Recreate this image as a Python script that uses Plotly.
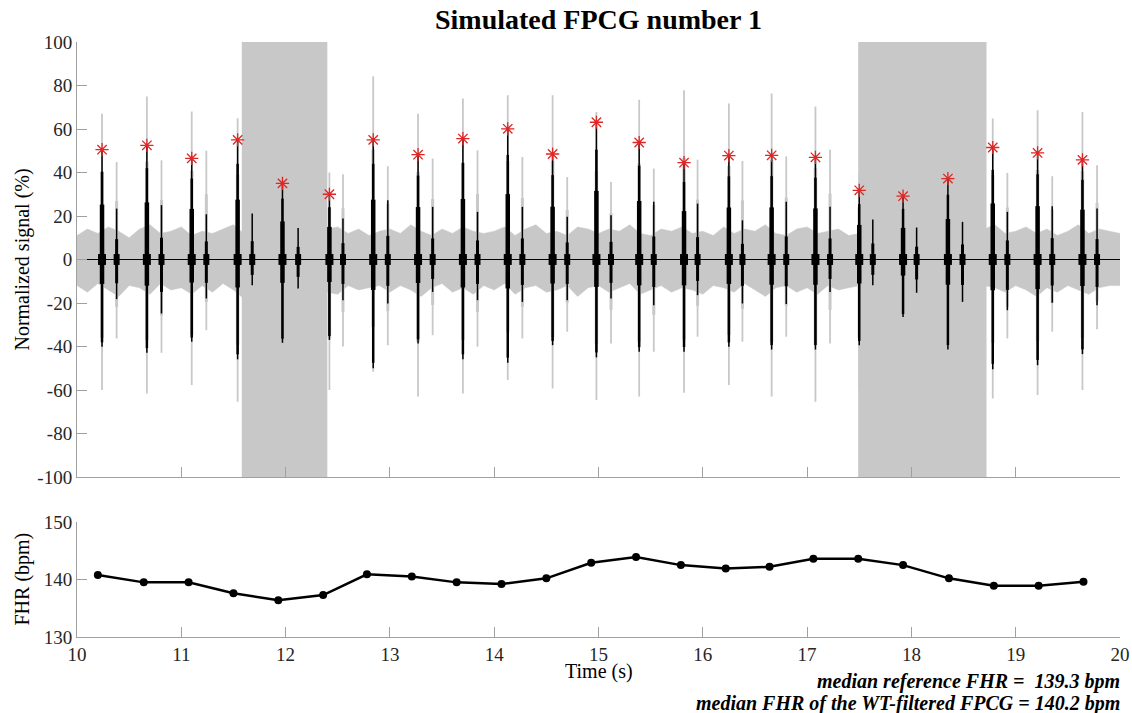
import plotly.graph_objects as go

# ---------------- data ----------------
# S1 (first heart sound) times and amplitudes of the WT-filtered signal
beat_t = [10.24, 10.67, 11.10, 11.54, 11.97, 12.42, 12.84, 13.27, 13.70, 14.13, 14.56, 14.98,
          15.39, 15.82, 16.25, 16.66, 17.08, 17.50, 17.92, 18.35, 18.78, 19.21, 19.64]
s1_peak = [50.5, 52.5, 46.5, 55.0, 35.0, 30.0, 55.0, 48.2, 55.6, 60.1, 48.5, 63.1,
           53.8, 44.5, 47.8, 47.9, 47.0, 31.8, 29.1, 37.2, 51.5, 49.0, 45.8]
s1_trough = [-40.1, -42.9, -37.8, -45.9, -38.3, -37.0, -50.0, -38.6, -45.9, -47.5, -39.4, -45.0,
             -42.4, -42.4, -40.1, -41.4, -41.4, -39.4, -26.4, -41.4, -50.5, -48.6, -43.5]
# S2 (second heart sound) times and amplitudes of the WT-filtered signal
s2_t = [10.38, 10.81, 11.24, 11.68, 12.12, 12.55, 12.98, 13.41, 13.84, 14.27, 14.70, 15.12,
        15.53, 15.95, 16.38, 16.80, 17.22, 17.63, 18.05, 18.49, 18.92, 19.35, 19.78]
s2_peak = [23.4, 25.0, 20.8, 21.1, 14.5, 18.8, 27.2, 24.2, 21.9, 24.2, 19.6, 20.3,
           26.5, 25.7, 18.0, 26.5, 24.2, 18.4, 14.7, 17.3, 21.9, 24.5, 23.4]
s2_trough = [-18.2, -24.8, -17.9, -11.8, -13.3, -18.7, -20.2, -14.9, -18.7, -19.5, -18.7, -17.9,
             -21.0, -16.4, -20.2, -20.5, -14.9, -11.8, -15.3, -19.5, -23.3, -19.9, -21.0]
# raw (noisy) simulated FPCG: spike extremes at S1 and S2
raw_s1_hi = [67.0, 75.0, 68.0, 65.0, 40.0, 40.0, 84.3, 67.0, 74.0, 75.5, 75.5, 67.8,
             73.5, 77.8, 71.7, 76.3, 70.4, 40.0, 35.0, 40.0, 64.8, 68.6, 67.8]
raw_s1_lo = [-60.0, -61.6, -57.7, -65.4, -60.0, -60.0, -51.6, -63.0, -61.6, -55.4, -59.3, -64.6,
             -63.0, -61.3, -57.7, -63.0, -65.4, -60.0, -60.0, -60.0, -63.9, -62.3, -60.0]
raw_s2_hi = [44.8, 45.6, 50.0, 25.0, 20.0, 39.2, 42.9, 46.4, 50.2, 47.1, 37.9, 35.6,
             41.8, 45.9, 45.3, 47.4, 50.5, 20.0, 20.0, 25.0, 39.8, 38.3, 43.3]
raw_s2_lo = [-36.3, -42.9, -32.5, -15.0, -15.0, -40.0, -39.4, -34.8, -40.1, -36.3, -33.2, -38.6,
             -42.4, -35.5, -37.8, -35.5, -38.6, -15.0, -18.0, -22.0, -36.3, -33.2, -32.1]
# strong noise bursts
noise_block_start = [11.58, 17.49]
noise_block_end = [12.40, 18.72]
noise_block_level = [100, 100]
# background noise envelope, every 0.1 s from 10.0 to 20.0 s
noise_t = [round(10 + 0.1 * i, 1) for i in range(101)]
noise_hi = [11, 14, 12, 15, 13, 10, 14, 16, 12, 13,
            15, 11, 13, 12, 14, 16, 12, 11, 13, 12,
            12, 11, 13, 12, 14, 15, 12, 14, 11, 13,
            14, 12, 16, 13, 11, 14, 12, 15, 13, 12,
            13, 15, 11, 14, 16, 12, 13, 11, 15, 14,
            12, 14, 13, 16, 12, 11, 14, 13, 15, 12,
            13, 11, 15, 12, 14, 13, 16, 12, 11, 14,
            15, 12, 13, 14, 11, 12, 13, 12, 14, 13,
            12, 14, 13, 12, 15, 13, 11, 14, 16, 12,
            13, 15, 12, 14, 11, 13, 16, 12, 14, 13, 12]
noise_lo = [-12, -15, -11, -14, -17, -12, -13, -16, -11, -14,
            -13, -16, -12, -15, -11, -14, -18, -12, -13, -15,
            -12, -14, -13, -11, -15, -16, -12, -14, -13, -12,
            -15, -12, -14, -17, -13, -11, -15, -13, -16, -12,
            -14, -11, -16, -13, -12, -15, -14, -12, -17, -13,
            -12, -15, -13, -11, -16, -14, -12, -15, -13, -14,
            -16, -12, -13, -15, -11, -14, -17, -13, -12, -15,
            -13, -16, -12, -14, -13, -12, -15, -14, -16, -12,
            -14, -12, -15, -13, -11, -16, -14, -12, -13, -15,
            -12, -14, -17, -13, -15, -12, -14, -16, -13, -12, -12]
# FHR estimated from the WT-filtered signal
fhr_t = [10.20, 10.64, 11.07, 11.50, 11.93, 12.36, 12.78, 13.21, 13.64, 14.07, 14.50, 14.93,
         15.36, 15.79, 16.22, 16.64, 17.06, 17.49, 17.92, 18.36, 18.79, 19.22, 19.65]
fhr_bpm = [140.8, 139.5, 139.5, 137.6, 136.4, 137.3, 140.9, 140.5, 139.5, 139.2, 140.2, 142.9,
           143.9, 142.5, 141.9, 142.2, 143.6, 143.6, 142.5, 140.2, 138.9, 138.9, 139.6]
# axis ticks
top_yticks = [-100, -80, -60, -40, -20, 0, 20, 40, 60, 80, 100]
bottom_yticks = [130, 140, 150]
xticks = [10, 11, 12, 13, 14, 15, 16, 17, 18, 19, 20]
baseline = 0

# ---------------- helpers ----------------
def segments(xs, los, his):
    X, Y = [], []
    for x, lo, hi in zip(xs, los, his):
        X += [x, x, None]
        Y += [lo, hi, None]
    return X, Y

GRAY = "#c8c8c8"
SERIF = "Liberation Serif"
AX = "#a0a0a0"
RED = "#e02525"

fig = go.Figure()

def add_seg(xs, los, his, width, color, xa="x", ya="y"):
    X, Y = segments(xs, los, his)
    fig.add_trace(go.Scatter(x=X, y=Y, mode="lines", line=dict(color=color, width=width),
                             hoverinfo="skip", showlegend=False, xaxis=xa, yaxis=ya))

# background noise band
fig.add_trace(go.Scatter(x=noise_t + noise_t[::-1], y=noise_hi + noise_lo[::-1],
                         fill="toself", fillcolor=GRAY, mode="lines",
                         line=dict(color=GRAY, width=0.5), hoverinfo="skip", showlegend=False))
# strong noise blocks
for s, e, lv in zip(noise_block_start, noise_block_end, noise_block_level):
    fig.add_trace(go.Scatter(x=[s, e, e, s, s], y=[-lv, -lv, lv, lv, -lv], fill="toself",
                             fillcolor=GRAY, mode="lines", line=dict(color=GRAY, width=0),
                             hoverinfo="skip", showlegend=False))
# raw spikes
add_seg(beat_t, raw_s1_lo, raw_s1_hi, 1.8, GRAY)
add_seg(beat_t, [v * 0.6 for v in raw_s1_lo], [v * 0.6 for v in raw_s1_hi], 3.5, GRAY)
add_seg(s2_t, raw_s2_lo, raw_s2_hi, 1.8, GRAY)
add_seg(s2_t, [v * 0.6 for v in raw_s2_lo], [v * 0.6 for v in raw_s2_hi], 3, GRAY)

# filtered signal: baseline
fig.add_trace(go.Scatter(x=[xticks[0], xticks[-1]], y=[baseline, baseline], mode="lines",
                         line=dict(color="black", width=1.2), hoverinfo="skip", showlegend=False))
# S1 bursts
add_seg(beat_t, s1_trough, s1_peak, 1.5, "black")
add_seg(beat_t, [v * 0.95 for v in s1_trough], [v * 0.8 for v in s1_peak], 2.5, "black")
add_seg(beat_t, [v * 0.28 for v in s1_trough], [v * 0.5 for v in s1_peak], 4.5, "black")
add_seg(beat_t, [-2.5] * len(beat_t), [2.5] * len(beat_t), 8, "black")
# S2 bursts
add_seg(s2_t, s2_trough, s2_peak, 1.5, "black")
add_seg(s2_t, [v * 0.6 for v in s2_trough], [v * 0.4 for v in s2_peak], 3, "black")
add_seg(s2_t, [-2.5] * len(s2_t), [2.5] * len(s2_t), 6, "black")

# detected S1 peaks
fig.add_trace(go.Scatter(x=beat_t, y=s1_peak, mode="markers",
                         marker=dict(symbol="asterisk-open", size=11, color=RED,
                                     line=dict(color=RED, width=1.3)),
                         hoverinfo="skip", showlegend=False))

# FHR
fig.add_trace(go.Scatter(x=fhr_t, y=fhr_bpm, mode="lines+markers",
                         line=dict(color="black", width=2.5),
                         marker=dict(color="black", size=8),
                         hoverinfo="skip", showlegend=False, xaxis="x2", yaxis="y2"))

axis_common = dict(showline=True, linecolor=AX, linewidth=1, ticks="inside", ticklen=10,
                   tickcolor=AX, tickwidth=1, showgrid=False, zeroline=False, automargin=False,
                   tickfont=dict(family=SERIF, size=19, color="#262626"))

top_bottom = 0.2689
bot_top = 0.1933
fig.update_layout(
    width=1132, height=713, autosize=False,
    margin=dict(l=77, r=12, t=42, b=76),
    font=dict(family=SERIF, size=18, color="#262626"),
    paper_bgcolor="white", plot_bgcolor="white",
    title=dict(text="<b>Simulated FPCG number 1</b>", x=0.5, xref="paper", xanchor="center",
               y=1 - 19 / 713, yref="container", yanchor="middle",
               font=dict(family=SERIF, size=28, color="black")),
    xaxis=dict(domain=[0, 1], anchor="y", range=[xticks[0], xticks[-1]], tickvals=xticks,
               showticklabels=False, **axis_common),
    yaxis=dict(domain=[top_bottom, 1], anchor="x", range=[top_yticks[0], top_yticks[-1]],
               tickvals=top_yticks, ticktext=[str(v) for v in top_yticks], **axis_common),
    xaxis2=dict(domain=[0, 1], anchor="y2", range=[xticks[0], xticks[-1]], tickvals=xticks,
                ticktext=[str(v) for v in xticks], **axis_common),
    yaxis2=dict(domain=[0, bot_top], anchor="x2", range=[bottom_yticks[0], bottom_yticks[-1]],
                tickvals=bottom_yticks, ticktext=[str(v) for v in bottom_yticks], **axis_common),
    showlegend=False,
)

ann_font = dict(family=SERIF, size=20, color="black")
fig.add_annotation(text="Normalized signal (%)", textangle=-90, xref="paper", yref="paper",
                   x=-0.0527, y=(top_bottom + 1) / 2, xanchor="center", yanchor="middle",
                   showarrow=False, font=ann_font)
fig.add_annotation(text="FHR (bpm)", textangle=-90, xref="paper", yref="paper",
                   x=-0.0527, y=bot_top / 2, xanchor="center", yanchor="middle",
                   showarrow=False, font=ann_font)
fig.add_annotation(text="Time (s)", xref="paper", yref="paper", x=0.5, y=-34 / 595,
                   xanchor="center", yanchor="middle", showarrow=False, font=ann_font)
bfont = dict(family=SERIF, size=20, color="black")
fig.add_annotation(text="<b><i>median reference FHR =  139.3 bpm</i></b>", xref="paper",
                   yref="paper", x=1.002, y=-44 / 595, xanchor="right", yanchor="middle",
                   showarrow=False, font=bfont)
fig.add_annotation(text="<b><i>median FHR of the WT-filtered FPCG = 140.2 bpm</i></b>",
                   xref="paper", yref="paper", x=1.002, y=-66 / 595, xanchor="right",
                   yanchor="middle", showarrow=False, font=bfont)

fig.write_html("out.html", config={"displayModeBar": False, "responsive": False},
               post_script="document.body.style.margin='0';document.body.style.overflow='hidden';")
